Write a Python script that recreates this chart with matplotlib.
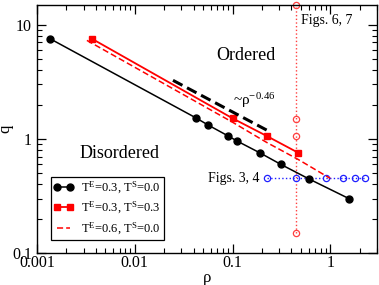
import matplotlib
matplotlib.use('Agg')
import matplotlib.pyplot as plt
from matplotlib.ticker import FuncFormatter, LogLocator, NullFormatter

plt.rcParams['font.family'] = ['Liberation Serif', 'DejaVu Serif']
plt.rcParams['mathtext.fontset'] = 'custom'
plt.rcParams['mathtext.rm'] = 'Liberation Serif'
plt.rcParams['mathtext.it'] = 'Liberation Serif:italic'

# T^E=0.3, T^S=0.0
rho_a = [0.00136, 0.0427, 0.0565, 0.0904, 0.112, 0.193, 0.313, 0.601, 1.56]
q_a = [7.55, 1.52, 1.32, 1.06, 0.955, 0.75, 0.597, 0.447, 0.299]
# T^E=0.3, T^S=0.3
rho_b = [0.00364, 0.1007, 0.224, 0.471]
q_b = [7.55, 1.51, 1.06, 0.755]
# T^E=0.6, T^S=0.0 (no markers)
rho_c = [0.00324, 0.1, 0.224, 0.47, 1.0]
q_c = [7.3, 1.4, 0.93, 0.66, 0.45]
# power-law guide ~rho^-0.46
rho_fit = [0.0246, 0.243]
q_fit = [3.26, 1.15]
# Figs. 6, 7 : fixed rho, varying q
rho_v = 0.447
q_v = [15, 1.5, 1.05, 0.15]
# Figs. 3, 4 : fixed q, varying rho
q_h = 0.45
rho_h = [0.224, 0.447, 0.894, 1.34, 1.79, 2.24]

fig = plt.figure(figsize=(3.79, 2.85), dpi=100)
ax = fig.add_axes([0.0976, 0.1123, 0.897, 0.8712])
ax.set_xscale('log')
ax.set_yscale('log')

ax.plot([rho_v] * 2, [min(q_v), max(q_v)], ':', color='#ff4040', lw=1.0)
ax.plot([rho_v] * len(q_v), q_v, 'o', mfc='none', mec='#ff4040', ms=4.5,
        mew=0.9, clip_on=False)
ax.plot(rho_h, [q_h] * len(rho_h), ':', color='#2020ff', lw=1.0,
        marker='o', mfc='none', mec='#2020ff', ms=4.5, mew=0.9)

ax.plot(rho_a, q_a, '-', color='black', lw=1.1, marker='o', ms=5,
        label='T$^{\\mathrm{E}}$=0.3, T$^{\\mathrm{S}}$=0.0')
ax.plot(rho_b, q_b, '-', color='red', lw=1.3, marker='s', ms=4.5,
        label='T$^{\\mathrm{E}}$=0.3, T$^{\\mathrm{S}}$=0.3')
ax.plot(rho_c, q_c, '--', color='red', lw=1.1, dashes=(4, 2),
        label='T$^{\\mathrm{E}}$=0.6, T$^{\\mathrm{S}}$=0.0')
ax.plot(rho_fit, q_fit, '--', color='black', lw=2.2, dashes=(3.5, 1.7))

ax.set_xlim(0.001, 3.0)
ax.set_ylim(0.1, 15)

fmt = FuncFormatter(lambda v, p: '%g' % v)
ax.xaxis.set_major_formatter(fmt)
ax.yaxis.set_major_formatter(fmt)
ax.xaxis.set_minor_formatter(NullFormatter())
ax.yaxis.set_minor_formatter(NullFormatter())
ax.xaxis.set_minor_locator(LogLocator(subs=range(2, 10)))
ax.yaxis.set_minor_locator(LogLocator(subs=range(2, 10)))
ax.tick_params(which='both', direction='in', top=True, right=True,
               labelsize=11.5)
ax.tick_params(which='major', length=6.5, width=0.9)
ax.tick_params(which='minor', length=3.5, width=0.8)
ax.tick_params(axis='x', pad=1.5)
for s in ax.spines.values():
    s.set_linewidth(1.0)

ax.set_xlabel('ρ', fontsize=12, labelpad=-1)
ax.set_ylabel('q', fontsize=12, labelpad=-1)

ax.text(0.136, 5.4, 'Ordered', fontsize=13, ha='center', va='center')
ax.text(0.0070, 0.75, 'Disordered', fontsize=13, ha='center', va='center')
ax.text(0.1, 2.15, '~ρ$^{\\mathrm{-0.46}}$', fontsize=11, ha='left',
        va='center')
ax.text(0.5, 10.8, 'Figs. 6, 7', fontsize=10, ha='left', va='center')
ax.text(0.19, 0.45, 'Figs. 3, 4', fontsize=10, ha='right', va='center')

leg = ax.legend(loc='lower left', bbox_to_anchor=(0.04, 0.052), fontsize=9,
                numpoints=2, handlelength=1.6, fancybox=False,
                edgecolor='black', framealpha=1, borderpad=0.25,
                labelspacing=0.35, handletextpad=0.6, borderaxespad=0)
leg.get_frame().set_linewidth(0.9)

fig.savefig('out.png', dpi=100)
